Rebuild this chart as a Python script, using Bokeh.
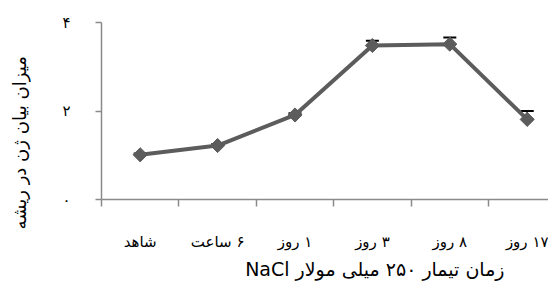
import numpy as np
from bokeh.plotting import figure
from bokeh.models import Range1d, FixedTicker, LinearAxis, Title
from bokeh.embed import file_html
from bokeh.resources import INLINE

# ---- data ----
categories = ["شاهد", "۶ ساعت", "۱ روز", "۳ روز", "۸ روز", "۱۷ روز"]
values = [1.01, 1.22, 1.91, 3.48, 3.51, 1.81]
errors = [0.03, 0.03, 0.04, 0.11, 0.15, 0.19]
y_ticks = [0, 2, 4]
y_tick_labels = ["۰", "۲", "۴"]
y_title = "میزان بیان ژن در ریشه"
x_title = "زمان تیمار ۲۵۰ میلی مولار  NaCl"

FONT = "DejaVu Sans"


def rtl(s):
    return "\u202b" + s + "\u202c"


n = len(categories)
xc = [i + 0.5 for i in range(n)]
boundaries = list(range(n + 1))
upper = [v + e for v, e in zip(values, errors)]

p = figure(width=548, height=281, output_backend="svg", toolbar_location=None,
           x_range=Range1d(0, 5.775), y_range=Range1d(0, 4),
           x_axis_type=None, y_axis_type=None,
           min_border_left=101, min_border_right=0, min_border_top=22, min_border_bottom=81)
p.outline_line_color = None
p.xgrid.visible = False
p.ygrid.visible = False
p.background_fill_color = "white"

AX = "#8a8a8a"

# x axis: labels at category centres, tick marks at category boundaries
xa = LinearAxis(ticker=FixedTicker(ticks=xc, minor_ticks=boundaries))
xa.major_label_overrides = {x: rtl(c) for x, c in zip(xc, categories)}
xa.major_tick_out = 0
xa.major_tick_in = 0
xa.minor_tick_out = 7
xa.minor_tick_in = 0
xa.minor_tick_line_color = AX
xa.minor_tick_line_width = 1.5
xa.axis_line_color = AX
xa.axis_line_width = 1.5
xa.major_label_standoff = 26
xa.major_label_text_font = FONT
xa.major_label_text_font_size = "15px"
xa.major_label_text_color = "black"
p.add_layout(xa, "below")

# y axis
ya = LinearAxis(ticker=FixedTicker(ticks=y_ticks, minor_ticks=[]))
ya.major_label_overrides = {t: l for t, l in zip(y_ticks, y_tick_labels)}
ya.major_tick_out = 6
ya.major_tick_in = 0
ya.major_tick_line_color = AX
ya.major_tick_line_width = 1.5
ya.axis_line_color = AX
ya.axis_line_width = 1.5
ya.major_label_standoff = 25
ya.major_label_text_font = FONT
ya.major_label_text_font_size = "15px"
ya.major_label_text_color = "black"
p.add_layout(ya, "left")

LC = "#5c5c5c"
# error bars (upper only)
p.segment(x0=xc, y0=values, x1=xc, y1=upper, line_color="black", line_width=1.5)
p.scatter(x=xc, y=upper, marker="dash", size=13, line_color="black", line_width=2)
# line + diamond markers
p.line(x=xc, y=values, line_color=LC, line_width=4)
p.scatter(x=xc, y=values, marker="square", angle=np.pi / 4, size=10,
          fill_color=LC, line_color=LC, line_width=1)

# axis titles
p.add_layout(Title(text=rtl(x_title), align="right", offset=38, standoff=4,
                   text_font=FONT, text_font_size="19px", text_font_style="normal",
                   text_color="black"), "below")
# spacer between the y tick labels and the y title
p.add_layout(Title(text="\u00a0", standoff=21, text_font_size="1px"), "left")
p.add_layout(Title(text=rtl(y_title), align="left", offset=-30, standoff=12,
                   text_font=FONT, text_font_size="18px", text_font_style="normal",
                   text_color="black"), "left")

open("out.html", "w").write(file_html(p, INLINE))
